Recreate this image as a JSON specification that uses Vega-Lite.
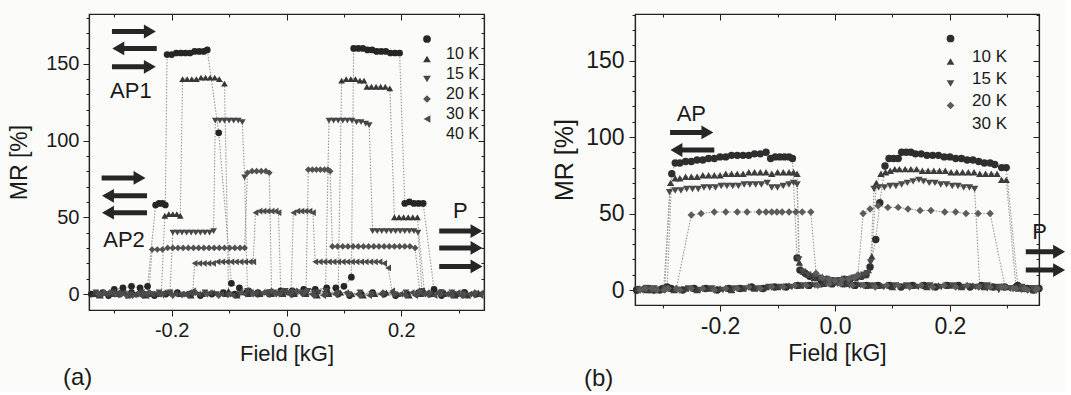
{
"$schema": "https://vega.github.io/schema/vega-lite/v6.json",
"background": "#fbfbf9",
"padding": {"left": 8, "top": 3, "right": 0, "bottom": 0},
"bounds": "flush",
"spacing": 151,
"resolve": {"scale": {"color": "independent", "shape": "independent"}, "legend": {"color": "independent", "shape": "independent"}},
"config": {
  "font": "Liberation Sans",
  "view": {"stroke": "#222", "strokeWidth": 1.2},
  "axis": {"grid": false, "domainColor": "#222", "domainWidth": 1.2, "tickColor": "#222", "labelColor": "#1a1a1a", "titleColor": "#1a1a1a", "titleFontWeight": "normal", "labelFont": "Liberation Sans", "titleFont": "Liberation Sans", "labelOverlap": false, "labelFlush": false},
  "legend": {"title": null, "orient": "none", "labelFont": "Liberation Sans", "labelColor": "#1a1a1a", "symbolOpacity": 1, "padding": 0}
},
"datasets": {
"pa": [
{"t":"10 K","b":"d","x":-0.340,"y":0},{"t":"10 K","b":"d","x":-0.320,"y":1},{"t":"10 K","b":"d","x":-0.300,"y":3},{"t":"10 K","b":"d","x":-0.285,"y":4},{"t":"10 K","b":"d","x":-0.270,"y":5},{"t":"10 K","b":"d","x":-0.255,"y":4},{"t":"10 K","b":"d","x":-0.242,"y":5},{"t":"10 K","b":"d","x":-0.228,"y":58},{"t":"10 K","b":"d","x":-0.222,"y":59},{"t":"10 K","b":"d","x":-0.216,"y":59},{"t":"10 K","b":"d","x":-0.211,"y":58},{"t":"10 K","b":"d","x":-0.208,"y":156},{"t":"10 K","b":"d","x":-0.200,"y":156},{"t":"10 K","b":"d","x":-0.192,"y":157},{"t":"10 K","b":"d","x":-0.184,"y":157},{"t":"10 K","b":"d","x":-0.176,"y":157},{"t":"10 K","b":"d","x":-0.168,"y":157},{"t":"10 K","b":"d","x":-0.160,"y":158},{"t":"10 K","b":"d","x":-0.152,"y":158},{"t":"10 K","b":"d","x":-0.144,"y":158},{"t":"10 K","b":"d","x":-0.138,"y":159},{"t":"10 K","b":"d","x":-0.118,"y":105},{"t":"10 K","b":"d","x":-0.096,"y":7},{"t":"10 K","b":"d","x":-0.082,"y":4},{"t":"10 K","b":"d","x":-0.066,"y":2},{"t":"10 K","b":"d","x":-0.050,"y":1},{"t":"10 K","b":"d","x":-0.030,"y":0},{"t":"10 K","b":"d","x":-0.010,"y":1},{"t":"10 K","b":"d","x":0.010,"y":0},{"t":"10 K","b":"d","x":0.030,"y":1},{"t":"10 K","b":"d","x":0.050,"y":0},{"t":"10 K","b":"d","x":0.070,"y":1},{"t":"10 K","b":"d","x":0.090,"y":0},{"t":"10 K","b":"d","x":0.110,"y":-1},{"t":"10 K","b":"d","x":0.130,"y":0},{"t":"10 K","b":"d","x":0.150,"y":1},{"t":"10 K","b":"d","x":0.170,"y":0},{"t":"10 K","b":"d","x":0.190,"y":-1},{"t":"10 K","b":"d","x":0.210,"y":0},{"t":"10 K","b":"d","x":0.230,"y":1},{"t":"10 K","b":"d","x":0.250,"y":0},{"t":"10 K","b":"d","x":0.270,"y":-1},{"t":"10 K","b":"d","x":0.290,"y":0},{"t":"10 K","b":"d","x":0.310,"y":1},{"t":"10 K","b":"d","x":0.330,"y":0},
{"t":"10 K","b":"u","x":-0.330,"y":0},{"t":"10 K","b":"u","x":-0.310,"y":-1},{"t":"10 K","b":"u","x":-0.290,"y":0},{"t":"10 K","b":"u","x":-0.270,"y":1},{"t":"10 K","b":"u","x":-0.250,"y":0},{"t":"10 K","b":"u","x":-0.230,"y":-1},{"t":"10 K","b":"u","x":-0.210,"y":0},{"t":"10 K","b":"u","x":-0.190,"y":1},{"t":"10 K","b":"u","x":-0.170,"y":0},{"t":"10 K","b":"u","x":-0.150,"y":-1},{"t":"10 K","b":"u","x":-0.130,"y":0},{"t":"10 K","b":"u","x":-0.110,"y":1},{"t":"10 K","b":"u","x":-0.090,"y":0},{"t":"10 K","b":"u","x":-0.070,"y":1},{"t":"10 K","b":"u","x":-0.050,"y":0},{"t":"10 K","b":"u","x":-0.030,"y":1},{"t":"10 K","b":"u","x":-0.010,"y":2},{"t":"10 K","b":"u","x":0.010,"y":2},{"t":"10 K","b":"u","x":0.030,"y":3},{"t":"10 K","b":"u","x":0.050,"y":3},{"t":"10 K","b":"u","x":0.070,"y":4},{"t":"10 K","b":"u","x":0.086,"y":4},{"t":"10 K","b":"u","x":0.100,"y":5},{"t":"10 K","b":"u","x":0.113,"y":11},{"t":"10 K","b":"u","x":0.117,"y":160},{"t":"10 K","b":"u","x":0.125,"y":160},{"t":"10 K","b":"u","x":0.133,"y":160},{"t":"10 K","b":"u","x":0.141,"y":159},{"t":"10 K","b":"u","x":0.149,"y":159},{"t":"10 K","b":"u","x":0.157,"y":158},{"t":"10 K","b":"u","x":0.165,"y":158},{"t":"10 K","b":"u","x":0.173,"y":158},{"t":"10 K","b":"u","x":0.181,"y":157},{"t":"10 K","b":"u","x":0.189,"y":157},{"t":"10 K","b":"u","x":0.197,"y":157},{"t":"10 K","b":"u","x":0.206,"y":59},{"t":"10 K","b":"u","x":0.214,"y":60},{"t":"10 K","b":"u","x":0.222,"y":59},{"t":"10 K","b":"u","x":0.230,"y":59},{"t":"10 K","b":"u","x":0.238,"y":59},{"t":"10 K","b":"u","x":0.257,"y":3},{"t":"10 K","b":"u","x":0.270,"y":1},{"t":"10 K","b":"u","x":0.290,"y":0},{"t":"10 K","b":"u","x":0.310,"y":1},{"t":"10 K","b":"u","x":0.330,"y":0},
{"t":"15 K","b":"d","x":-0.336,"y":0},{"t":"15 K","b":"d","x":-0.316,"y":1},{"t":"15 K","b":"d","x":-0.296,"y":0},{"t":"15 K","b":"d","x":-0.276,"y":-1},{"t":"15 K","b":"d","x":-0.256,"y":1},{"t":"15 K","b":"d","x":-0.236,"y":0},{"t":"15 K","b":"d","x":-0.218,"y":1},{"t":"15 K","b":"d","x":-0.212,"y":51},{"t":"15 K","b":"d","x":-0.205,"y":52},{"t":"15 K","b":"d","x":-0.198,"y":52},{"t":"15 K","b":"d","x":-0.191,"y":52},{"t":"15 K","b":"d","x":-0.185,"y":51},{"t":"15 K","b":"d","x":-0.181,"y":140},{"t":"15 K","b":"d","x":-0.173,"y":140},{"t":"15 K","b":"d","x":-0.165,"y":140},{"t":"15 K","b":"d","x":-0.157,"y":140},{"t":"15 K","b":"d","x":-0.149,"y":141},{"t":"15 K","b":"d","x":-0.141,"y":141},{"t":"15 K","b":"d","x":-0.133,"y":141},{"t":"15 K","b":"d","x":-0.125,"y":141},{"t":"15 K","b":"d","x":-0.117,"y":140},{"t":"15 K","b":"d","x":-0.108,"y":137},{"t":"15 K","b":"d","x":-0.101,"y":2},{"t":"15 K","b":"d","x":-0.086,"y":0},{"t":"15 K","b":"d","x":-0.066,"y":1},{"t":"15 K","b":"d","x":-0.046,"y":0},{"t":"15 K","b":"d","x":-0.026,"y":1},{"t":"15 K","b":"d","x":-0.006,"y":0},{"t":"15 K","b":"d","x":0.014,"y":1},{"t":"15 K","b":"d","x":0.034,"y":0},{"t":"15 K","b":"d","x":0.054,"y":-1},{"t":"15 K","b":"d","x":0.074,"y":0},{"t":"15 K","b":"d","x":0.094,"y":1},{"t":"15 K","b":"d","x":0.114,"y":0},{"t":"15 K","b":"d","x":0.134,"y":-1},{"t":"15 K","b":"d","x":0.154,"y":0},{"t":"15 K","b":"d","x":0.174,"y":1},{"t":"15 K","b":"d","x":0.194,"y":0},{"t":"15 K","b":"d","x":0.214,"y":-1},{"t":"15 K","b":"d","x":0.234,"y":0},{"t":"15 K","b":"d","x":0.254,"y":1},{"t":"15 K","b":"d","x":0.274,"y":0},{"t":"15 K","b":"d","x":0.294,"y":-1},{"t":"15 K","b":"d","x":0.314,"y":0},{"t":"15 K","b":"d","x":0.334,"y":1},
{"t":"15 K","b":"u","x":-0.326,"y":-1},{"t":"15 K","b":"u","x":-0.306,"y":0},{"t":"15 K","b":"u","x":-0.286,"y":1},{"t":"15 K","b":"u","x":-0.266,"y":0},{"t":"15 K","b":"u","x":-0.246,"y":-1},{"t":"15 K","b":"u","x":-0.226,"y":0},{"t":"15 K","b":"u","x":-0.206,"y":1},{"t":"15 K","b":"u","x":-0.186,"y":0},{"t":"15 K","b":"u","x":-0.166,"y":-1},{"t":"15 K","b":"u","x":-0.146,"y":0},{"t":"15 K","b":"u","x":-0.126,"y":1},{"t":"15 K","b":"u","x":-0.106,"y":0},{"t":"15 K","b":"u","x":-0.086,"y":-1},{"t":"15 K","b":"u","x":-0.066,"y":0},{"t":"15 K","b":"u","x":-0.046,"y":1},{"t":"15 K","b":"u","x":-0.026,"y":0},{"t":"15 K","b":"u","x":-0.006,"y":1},{"t":"15 K","b":"u","x":0.014,"y":0},{"t":"15 K","b":"u","x":0.034,"y":1},{"t":"15 K","b":"u","x":0.054,"y":2},{"t":"15 K","b":"u","x":0.074,"y":1},{"t":"15 K","b":"u","x":0.090,"y":2},{"t":"15 K","b":"u","x":0.096,"y":139},{"t":"15 K","b":"u","x":0.104,"y":140},{"t":"15 K","b":"u","x":0.112,"y":140},{"t":"15 K","b":"u","x":0.120,"y":140},{"t":"15 K","b":"u","x":0.128,"y":139},{"t":"15 K","b":"u","x":0.135,"y":139},{"t":"15 K","b":"u","x":0.140,"y":135},{"t":"15 K","b":"u","x":0.148,"y":135},{"t":"15 K","b":"u","x":0.156,"y":135},{"t":"15 K","b":"u","x":0.164,"y":135},{"t":"15 K","b":"u","x":0.172,"y":135},{"t":"15 K","b":"u","x":0.180,"y":134},{"t":"15 K","b":"u","x":0.188,"y":50},{"t":"15 K","b":"u","x":0.196,"y":50},{"t":"15 K","b":"u","x":0.204,"y":50},{"t":"15 K","b":"u","x":0.212,"y":50},{"t":"15 K","b":"u","x":0.220,"y":50},{"t":"15 K","b":"u","x":0.228,"y":50},{"t":"15 K","b":"u","x":0.240,"y":2},{"t":"15 K","b":"u","x":0.256,"y":0},{"t":"15 K","b":"u","x":0.276,"y":1},{"t":"15 K","b":"u","x":0.296,"y":0},{"t":"15 K","b":"u","x":0.316,"y":-1},{"t":"15 K","b":"u","x":0.336,"y":0},
{"t":"20 K","b":"d","x":-0.332,"y":1},{"t":"20 K","b":"d","x":-0.312,"y":0},{"t":"20 K","b":"d","x":-0.292,"y":-1},{"t":"20 K","b":"d","x":-0.272,"y":0},{"t":"20 K","b":"d","x":-0.252,"y":1},{"t":"20 K","b":"d","x":-0.232,"y":0},{"t":"20 K","b":"d","x":-0.214,"y":-1},{"t":"20 K","b":"d","x":-0.203,"y":1},{"t":"20 K","b":"d","x":-0.198,"y":40},{"t":"20 K","b":"d","x":-0.190,"y":40},{"t":"20 K","b":"d","x":-0.182,"y":40},{"t":"20 K","b":"d","x":-0.174,"y":40},{"t":"20 K","b":"d","x":-0.166,"y":40},{"t":"20 K","b":"d","x":-0.158,"y":40},{"t":"20 K","b":"d","x":-0.150,"y":40},{"t":"20 K","b":"d","x":-0.142,"y":40},{"t":"20 K","b":"d","x":-0.134,"y":40},{"t":"20 K","b":"d","x":-0.127,"y":41},{"t":"20 K","b":"d","x":-0.124,"y":113},{"t":"20 K","b":"d","x":-0.116,"y":113},{"t":"20 K","b":"d","x":-0.108,"y":113},{"t":"20 K","b":"d","x":-0.100,"y":113},{"t":"20 K","b":"d","x":-0.092,"y":113},{"t":"20 K","b":"d","x":-0.084,"y":113},{"t":"20 K","b":"d","x":-0.077,"y":112},{"t":"20 K","b":"d","x":-0.073,"y":76},{"t":"20 K","b":"d","x":-0.068,"y":2},{"t":"20 K","b":"d","x":-0.052,"y":0},{"t":"20 K","b":"d","x":-0.032,"y":1},{"t":"20 K","b":"d","x":-0.012,"y":0},{"t":"20 K","b":"d","x":0.008,"y":-1},{"t":"20 K","b":"d","x":0.028,"y":0},{"t":"20 K","b":"d","x":0.048,"y":1},{"t":"20 K","b":"d","x":0.068,"y":0},{"t":"20 K","b":"d","x":0.088,"y":-1},{"t":"20 K","b":"d","x":0.108,"y":0},{"t":"20 K","b":"d","x":0.128,"y":1},{"t":"20 K","b":"d","x":0.148,"y":0},{"t":"20 K","b":"d","x":0.168,"y":-1},{"t":"20 K","b":"d","x":0.188,"y":0},{"t":"20 K","b":"d","x":0.208,"y":1},{"t":"20 K","b":"d","x":0.228,"y":0},{"t":"20 K","b":"d","x":0.248,"y":-1},{"t":"20 K","b":"d","x":0.268,"y":0},{"t":"20 K","b":"d","x":0.288,"y":1},{"t":"20 K","b":"d","x":0.308,"y":0},{"t":"20 K","b":"d","x":0.328,"y":-1},
{"t":"20 K","b":"u","x":-0.322,"y":0},{"t":"20 K","b":"u","x":-0.302,"y":1},{"t":"20 K","b":"u","x":-0.282,"y":0},{"t":"20 K","b":"u","x":-0.262,"y":-1},{"t":"20 K","b":"u","x":-0.242,"y":0},{"t":"20 K","b":"u","x":-0.222,"y":1},{"t":"20 K","b":"u","x":-0.202,"y":0},{"t":"20 K","b":"u","x":-0.182,"y":-1},{"t":"20 K","b":"u","x":-0.162,"y":0},{"t":"20 K","b":"u","x":-0.142,"y":1},{"t":"20 K","b":"u","x":-0.122,"y":0},{"t":"20 K","b":"u","x":-0.102,"y":-1},{"t":"20 K","b":"u","x":-0.082,"y":0},{"t":"20 K","b":"u","x":-0.062,"y":1},{"t":"20 K","b":"u","x":-0.042,"y":0},{"t":"20 K","b":"u","x":-0.022,"y":1},{"t":"20 K","b":"u","x":-0.002,"y":2},{"t":"20 K","b":"u","x":0.018,"y":1},{"t":"20 K","b":"u","x":0.038,"y":2},{"t":"20 K","b":"u","x":0.056,"y":1},{"t":"20 K","b":"u","x":0.068,"y":2},{"t":"20 K","b":"u","x":0.074,"y":113},{"t":"20 K","b":"u","x":0.082,"y":113},{"t":"20 K","b":"u","x":0.090,"y":113},{"t":"20 K","b":"u","x":0.098,"y":113},{"t":"20 K","b":"u","x":0.106,"y":113},{"t":"20 K","b":"u","x":0.114,"y":113},{"t":"20 K","b":"u","x":0.122,"y":112},{"t":"20 K","b":"u","x":0.130,"y":112},{"t":"20 K","b":"u","x":0.138,"y":111},{"t":"20 K","b":"u","x":0.144,"y":110},{"t":"20 K","b":"u","x":0.150,"y":41},{"t":"20 K","b":"u","x":0.158,"y":41},{"t":"20 K","b":"u","x":0.166,"y":41},{"t":"20 K","b":"u","x":0.174,"y":41},{"t":"20 K","b":"u","x":0.182,"y":41},{"t":"20 K","b":"u","x":0.190,"y":41},{"t":"20 K","b":"u","x":0.198,"y":41},{"t":"20 K","b":"u","x":0.206,"y":41},{"t":"20 K","b":"u","x":0.214,"y":41},{"t":"20 K","b":"u","x":0.222,"y":41},{"t":"20 K","b":"u","x":0.229,"y":40},{"t":"20 K","b":"u","x":0.236,"y":2},{"t":"20 K","b":"u","x":0.250,"y":0},{"t":"20 K","b":"u","x":0.270,"y":1},{"t":"20 K","b":"u","x":0.290,"y":0},{"t":"20 K","b":"u","x":0.310,"y":-1},{"t":"20 K","b":"u","x":0.330,"y":0},
{"t":"30 K","b":"d","x":-0.328,"y":0},{"t":"30 K","b":"d","x":-0.308,"y":1},{"t":"30 K","b":"d","x":-0.288,"y":0},{"t":"30 K","b":"d","x":-0.268,"y":-1},{"t":"30 K","b":"d","x":-0.250,"y":0},{"t":"30 K","b":"d","x":-0.240,"y":1},{"t":"30 K","b":"d","x":-0.234,"y":29},{"t":"30 K","b":"d","x":-0.225,"y":29},{"t":"30 K","b":"d","x":-0.216,"y":29},{"t":"30 K","b":"d","x":-0.207,"y":30},{"t":"30 K","b":"d","x":-0.198,"y":30},{"t":"30 K","b":"d","x":-0.189,"y":30},{"t":"30 K","b":"d","x":-0.180,"y":30},{"t":"30 K","b":"d","x":-0.171,"y":30},{"t":"30 K","b":"d","x":-0.162,"y":30},{"t":"30 K","b":"d","x":-0.153,"y":30},{"t":"30 K","b":"d","x":-0.144,"y":30},{"t":"30 K","b":"d","x":-0.135,"y":30},{"t":"30 K","b":"d","x":-0.126,"y":30},{"t":"30 K","b":"d","x":-0.117,"y":30},{"t":"30 K","b":"d","x":-0.108,"y":30},{"t":"30 K","b":"d","x":-0.099,"y":30},{"t":"30 K","b":"d","x":-0.090,"y":30},{"t":"30 K","b":"d","x":-0.081,"y":30},{"t":"30 K","b":"d","x":-0.073,"y":30},{"t":"30 K","b":"d","x":-0.068,"y":79},{"t":"30 K","b":"d","x":-0.060,"y":80},{"t":"30 K","b":"d","x":-0.052,"y":80},{"t":"30 K","b":"d","x":-0.044,"y":80},{"t":"30 K","b":"d","x":-0.036,"y":80},{"t":"30 K","b":"d","x":-0.030,"y":79},{"t":"30 K","b":"d","x":-0.026,"y":2},{"t":"30 K","b":"d","x":-0.012,"y":0},{"t":"30 K","b":"d","x":0.008,"y":1},{"t":"30 K","b":"d","x":0.028,"y":0},{"t":"30 K","b":"d","x":0.048,"y":-1},{"t":"30 K","b":"d","x":0.068,"y":0},{"t":"30 K","b":"d","x":0.088,"y":1},{"t":"30 K","b":"d","x":0.108,"y":0},{"t":"30 K","b":"d","x":0.128,"y":-1},{"t":"30 K","b":"d","x":0.148,"y":0},{"t":"30 K","b":"d","x":0.168,"y":1},{"t":"30 K","b":"d","x":0.188,"y":0},{"t":"30 K","b":"d","x":0.208,"y":-1},{"t":"30 K","b":"d","x":0.228,"y":0},{"t":"30 K","b":"d","x":0.248,"y":1},{"t":"30 K","b":"d","x":0.268,"y":0},{"t":"30 K","b":"d","x":0.288,"y":-1},{"t":"30 K","b":"d","x":0.308,"y":0},{"t":"30 K","b":"d","x":0.328,"y":1},
{"t":"30 K","b":"u","x":-0.318,"y":1},{"t":"30 K","b":"u","x":-0.298,"y":0},{"t":"30 K","b":"u","x":-0.278,"y":-1},{"t":"30 K","b":"u","x":-0.258,"y":0},{"t":"30 K","b":"u","x":-0.238,"y":1},{"t":"30 K","b":"u","x":-0.218,"y":0},{"t":"30 K","b":"u","x":-0.198,"y":-1},{"t":"30 K","b":"u","x":-0.178,"y":0},{"t":"30 K","b":"u","x":-0.158,"y":1},{"t":"30 K","b":"u","x":-0.138,"y":0},{"t":"30 K","b":"u","x":-0.118,"y":-1},{"t":"30 K","b":"u","x":-0.098,"y":0},{"t":"30 K","b":"u","x":-0.078,"y":1},{"t":"30 K","b":"u","x":-0.058,"y":0},{"t":"30 K","b":"u","x":-0.038,"y":1},{"t":"30 K","b":"u","x":-0.018,"y":0},{"t":"30 K","b":"u","x":0.002,"y":1},{"t":"30 K","b":"u","x":0.018,"y":2},{"t":"30 K","b":"u","x":0.030,"y":1},{"t":"30 K","b":"u","x":0.034,"y":2},{"t":"30 K","b":"u","x":0.038,"y":81},{"t":"30 K","b":"u","x":0.045,"y":81},{"t":"30 K","b":"u","x":0.052,"y":81},{"t":"30 K","b":"u","x":0.059,"y":81},{"t":"30 K","b":"u","x":0.066,"y":81},{"t":"30 K","b":"u","x":0.072,"y":81},{"t":"30 K","b":"u","x":0.076,"y":80},{"t":"30 K","b":"u","x":0.080,"y":31},{"t":"30 K","b":"u","x":0.089,"y":31},{"t":"30 K","b":"u","x":0.098,"y":31},{"t":"30 K","b":"u","x":0.107,"y":31},{"t":"30 K","b":"u","x":0.116,"y":31},{"t":"30 K","b":"u","x":0.125,"y":31},{"t":"30 K","b":"u","x":0.134,"y":31},{"t":"30 K","b":"u","x":0.143,"y":31},{"t":"30 K","b":"u","x":0.152,"y":31},{"t":"30 K","b":"u","x":0.161,"y":31},{"t":"30 K","b":"u","x":0.170,"y":31},{"t":"30 K","b":"u","x":0.179,"y":31},{"t":"30 K","b":"u","x":0.188,"y":31},{"t":"30 K","b":"u","x":0.197,"y":31},{"t":"30 K","b":"u","x":0.206,"y":31},{"t":"30 K","b":"u","x":0.215,"y":31},{"t":"30 K","b":"u","x":0.224,"y":30},{"t":"30 K","b":"u","x":0.232,"y":2},{"t":"30 K","b":"u","x":0.246,"y":0},{"t":"30 K","b":"u","x":0.266,"y":1},{"t":"30 K","b":"u","x":0.286,"y":0},{"t":"30 K","b":"u","x":0.306,"y":-1},{"t":"30 K","b":"u","x":0.326,"y":0},
{"t":"40 K","b":"d","x":-0.324,"y":-1},{"t":"40 K","b":"d","x":-0.304,"y":0},{"t":"40 K","b":"d","x":-0.284,"y":1},{"t":"40 K","b":"d","x":-0.264,"y":0},{"t":"40 K","b":"d","x":-0.244,"y":-1},{"t":"40 K","b":"d","x":-0.224,"y":0},{"t":"40 K","b":"d","x":-0.204,"y":1},{"t":"40 K","b":"d","x":-0.184,"y":0},{"t":"40 K","b":"d","x":-0.170,"y":1},{"t":"40 K","b":"d","x":-0.163,"y":2},{"t":"40 K","b":"d","x":-0.160,"y":20},{"t":"40 K","b":"d","x":-0.152,"y":20},{"t":"40 K","b":"d","x":-0.144,"y":20},{"t":"40 K","b":"d","x":-0.136,"y":20},{"t":"40 K","b":"d","x":-0.128,"y":20},{"t":"40 K","b":"d","x":-0.120,"y":21},{"t":"40 K","b":"d","x":-0.112,"y":21},{"t":"40 K","b":"d","x":-0.104,"y":21},{"t":"40 K","b":"d","x":-0.096,"y":21},{"t":"40 K","b":"d","x":-0.088,"y":21},{"t":"40 K","b":"d","x":-0.080,"y":21},{"t":"40 K","b":"d","x":-0.072,"y":21},{"t":"40 K","b":"d","x":-0.064,"y":21},{"t":"40 K","b":"d","x":-0.058,"y":21},{"t":"40 K","b":"d","x":-0.054,"y":53},{"t":"40 K","b":"d","x":-0.047,"y":54},{"t":"40 K","b":"d","x":-0.040,"y":54},{"t":"40 K","b":"d","x":-0.033,"y":54},{"t":"40 K","b":"d","x":-0.026,"y":54},{"t":"40 K","b":"d","x":-0.019,"y":54},{"t":"40 K","b":"d","x":-0.014,"y":53},{"t":"40 K","b":"d","x":-0.010,"y":2},{"t":"40 K","b":"d","x":0.004,"y":0},{"t":"40 K","b":"d","x":0.024,"y":1},{"t":"40 K","b":"d","x":0.044,"y":0},{"t":"40 K","b":"d","x":0.064,"y":-1},{"t":"40 K","b":"d","x":0.084,"y":0},{"t":"40 K","b":"d","x":0.104,"y":1},{"t":"40 K","b":"d","x":0.124,"y":0},{"t":"40 K","b":"d","x":0.144,"y":-1},{"t":"40 K","b":"d","x":0.164,"y":0},{"t":"40 K","b":"d","x":0.184,"y":1},{"t":"40 K","b":"d","x":0.204,"y":0},{"t":"40 K","b":"d","x":0.224,"y":-1},{"t":"40 K","b":"d","x":0.244,"y":0},{"t":"40 K","b":"d","x":0.264,"y":1},{"t":"40 K","b":"d","x":0.284,"y":0},{"t":"40 K","b":"d","x":0.304,"y":-1},{"t":"40 K","b":"d","x":0.324,"y":0},{"t":"40 K","b":"d","x":0.340,"y":1},
{"t":"40 K","b":"u","x":-0.314,"y":0},{"t":"40 K","b":"u","x":-0.294,"y":1},{"t":"40 K","b":"u","x":-0.274,"y":0},{"t":"40 K","b":"u","x":-0.254,"y":-1},{"t":"40 K","b":"u","x":-0.234,"y":0},{"t":"40 K","b":"u","x":-0.214,"y":1},{"t":"40 K","b":"u","x":-0.194,"y":0},{"t":"40 K","b":"u","x":-0.174,"y":-1},{"t":"40 K","b":"u","x":-0.154,"y":0},{"t":"40 K","b":"u","x":-0.134,"y":1},{"t":"40 K","b":"u","x":-0.114,"y":0},{"t":"40 K","b":"u","x":-0.094,"y":-1},{"t":"40 K","b":"u","x":-0.074,"y":0},{"t":"40 K","b":"u","x":-0.054,"y":1},{"t":"40 K","b":"u","x":-0.034,"y":0},{"t":"40 K","b":"u","x":-0.014,"y":1},{"t":"40 K","b":"u","x":0.000,"y":1},{"t":"40 K","b":"u","x":0.008,"y":2},{"t":"40 K","b":"u","x":0.012,"y":53},{"t":"40 K","b":"u","x":0.019,"y":54},{"t":"40 K","b":"u","x":0.026,"y":54},{"t":"40 K","b":"u","x":0.033,"y":54},{"t":"40 K","b":"u","x":0.040,"y":54},{"t":"40 K","b":"u","x":0.046,"y":53},{"t":"40 K","b":"u","x":0.050,"y":21},{"t":"40 K","b":"u","x":0.058,"y":21},{"t":"40 K","b":"u","x":0.066,"y":21},{"t":"40 K","b":"u","x":0.074,"y":21},{"t":"40 K","b":"u","x":0.082,"y":21},{"t":"40 K","b":"u","x":0.090,"y":21},{"t":"40 K","b":"u","x":0.098,"y":21},{"t":"40 K","b":"u","x":0.106,"y":21},{"t":"40 K","b":"u","x":0.114,"y":21},{"t":"40 K","b":"u","x":0.122,"y":21},{"t":"40 K","b":"u","x":0.130,"y":21},{"t":"40 K","b":"u","x":0.138,"y":21},{"t":"40 K","b":"u","x":0.146,"y":21},{"t":"40 K","b":"u","x":0.154,"y":21},{"t":"40 K","b":"u","x":0.162,"y":21},{"t":"40 K","b":"u","x":0.170,"y":20},{"t":"40 K","b":"u","x":0.177,"y":17},{"t":"40 K","b":"u","x":0.184,"y":2},{"t":"40 K","b":"u","x":0.198,"y":0},{"t":"40 K","b":"u","x":0.218,"y":1},{"t":"40 K","b":"u","x":0.238,"y":0},{"t":"40 K","b":"u","x":0.258,"y":-1},{"t":"40 K","b":"u","x":0.278,"y":0},{"t":"40 K","b":"u","x":0.298,"y":1},{"t":"40 K","b":"u","x":0.318,"y":0},{"t":"40 K","b":"u","x":0.338,"y":-1}
],
"pb": [
{"t":"10 K","b":"u","x":-0.345,"y":0},{"t":"10 K","b":"u","x":-0.330,"y":1},{"t":"10 K","b":"u","x":-0.315,"y":0},{"t":"10 K","b":"u","x":-0.300,"y":1},{"t":"10 K","b":"u","x":-0.292,"y":2},{"t":"10 K","b":"u","x":-0.284,"y":76},{"t":"10 K","b":"u","x":-0.278,"y":83},{"t":"10 K","b":"u","x":-0.270,"y":83},{"t":"10 K","b":"u","x":-0.260,"y":84},{"t":"10 K","b":"u","x":-0.250,"y":84},{"t":"10 K","b":"u","x":-0.240,"y":85},{"t":"10 K","b":"u","x":-0.230,"y":85},{"t":"10 K","b":"u","x":-0.220,"y":86},{"t":"10 K","b":"u","x":-0.210,"y":86},{"t":"10 K","b":"u","x":-0.200,"y":87},{"t":"10 K","b":"u","x":-0.190,"y":87},{"t":"10 K","b":"u","x":-0.180,"y":88},{"t":"10 K","b":"u","x":-0.170,"y":88},{"t":"10 K","b":"u","x":-0.160,"y":88},{"t":"10 K","b":"u","x":-0.150,"y":88},{"t":"10 K","b":"u","x":-0.140,"y":89},{"t":"10 K","b":"u","x":-0.130,"y":89},{"t":"10 K","b":"u","x":-0.120,"y":90},{"t":"10 K","b":"u","x":-0.112,"y":86},{"t":"10 K","b":"u","x":-0.104,"y":87},{"t":"10 K","b":"u","x":-0.096,"y":87},{"t":"10 K","b":"u","x":-0.088,"y":87},{"t":"10 K","b":"u","x":-0.080,"y":87},{"t":"10 K","b":"u","x":-0.074,"y":86},{"t":"10 K","b":"u","x":-0.066,"y":21},{"t":"10 K","b":"u","x":-0.061,"y":13},{"t":"10 K","b":"u","x":-0.052,"y":11},{"t":"10 K","b":"u","x":-0.044,"y":9},{"t":"10 K","b":"u","x":-0.034,"y":8},{"t":"10 K","b":"u","x":-0.024,"y":7},{"t":"10 K","b":"u","x":-0.014,"y":7},{"t":"10 K","b":"u","x":-0.004,"y":6},{"t":"10 K","b":"u","x":0.006,"y":6},{"t":"10 K","b":"u","x":0.016,"y":7},{"t":"10 K","b":"u","x":0.026,"y":7},{"t":"10 K","b":"u","x":0.036,"y":8},{"t":"10 K","b":"u","x":0.046,"y":9},{"t":"10 K","b":"u","x":0.054,"y":10},{"t":"10 K","b":"u","x":0.061,"y":15},{"t":"10 K","b":"u","x":0.071,"y":33},{"t":"10 K","b":"u","x":0.078,"y":57},{"t":"10 K","b":"u","x":0.087,"y":81},{"t":"10 K","b":"u","x":0.094,"y":86},{"t":"10 K","b":"u","x":0.102,"y":86},{"t":"10 K","b":"u","x":0.110,"y":86},{"t":"10 K","b":"u","x":0.116,"y":90},{"t":"10 K","b":"u","x":0.124,"y":90},{"t":"10 K","b":"u","x":0.132,"y":90},{"t":"10 K","b":"u","x":0.140,"y":89},{"t":"10 K","b":"u","x":0.150,"y":89},{"t":"10 K","b":"u","x":0.160,"y":88},{"t":"10 K","b":"u","x":0.170,"y":88},{"t":"10 K","b":"u","x":0.180,"y":88},{"t":"10 K","b":"u","x":0.190,"y":87},{"t":"10 K","b":"u","x":0.200,"y":87},{"t":"10 K","b":"u","x":0.210,"y":86},{"t":"10 K","b":"u","x":0.220,"y":86},{"t":"10 K","b":"u","x":0.230,"y":85},{"t":"10 K","b":"u","x":0.240,"y":85},{"t":"10 K","b":"u","x":0.250,"y":84},{"t":"10 K","b":"u","x":0.260,"y":83},{"t":"10 K","b":"u","x":0.270,"y":83},{"t":"10 K","b":"u","x":0.278,"y":82},{"t":"10 K","b":"u","x":0.290,"y":80},{"t":"10 K","b":"u","x":0.298,"y":80},{"t":"10 K","b":"u","x":0.318,"y":3},{"t":"10 K","b":"u","x":0.330,"y":1},{"t":"10 K","b":"u","x":0.345,"y":0},
{"t":"10 K","b":"d","x":-0.345,"y":0},{"t":"10 K","b":"d","x":-0.325,"y":1},{"t":"10 K","b":"d","x":-0.305,"y":0},{"t":"10 K","b":"d","x":-0.285,"y":1},{"t":"10 K","b":"d","x":-0.265,"y":0},{"t":"10 K","b":"d","x":-0.245,"y":1},{"t":"10 K","b":"d","x":-0.225,"y":1},{"t":"10 K","b":"d","x":-0.205,"y":0},{"t":"10 K","b":"d","x":-0.185,"y":1},{"t":"10 K","b":"d","x":-0.165,"y":1},{"t":"10 K","b":"d","x":-0.145,"y":2},{"t":"10 K","b":"d","x":-0.125,"y":1},{"t":"10 K","b":"d","x":-0.105,"y":2},{"t":"10 K","b":"d","x":-0.085,"y":2},{"t":"10 K","b":"d","x":-0.065,"y":3},{"t":"10 K","b":"d","x":-0.045,"y":3},{"t":"10 K","b":"d","x":-0.025,"y":4},{"t":"10 K","b":"d","x":-0.005,"y":4},{"t":"10 K","b":"d","x":0.015,"y":4},{"t":"10 K","b":"d","x":0.035,"y":3},{"t":"10 K","b":"d","x":0.055,"y":3},{"t":"10 K","b":"d","x":0.075,"y":3},{"t":"10 K","b":"d","x":0.095,"y":3},{"t":"10 K","b":"d","x":0.115,"y":2},{"t":"10 K","b":"d","x":0.135,"y":3},{"t":"10 K","b":"d","x":0.155,"y":3},{"t":"10 K","b":"d","x":0.175,"y":2},{"t":"10 K","b":"d","x":0.195,"y":3},{"t":"10 K","b":"d","x":0.215,"y":3},{"t":"10 K","b":"d","x":0.235,"y":2},{"t":"10 K","b":"d","x":0.255,"y":3},{"t":"10 K","b":"d","x":0.275,"y":2},{"t":"10 K","b":"d","x":0.295,"y":2},{"t":"10 K","b":"d","x":0.315,"y":2},{"t":"10 K","b":"d","x":0.335,"y":1},{"t":"10 K","b":"d","x":0.355,"y":1},
{"t":"15 K","b":"u","x":-0.343,"y":1},{"t":"15 K","b":"u","x":-0.328,"y":0},{"t":"15 K","b":"u","x":-0.313,"y":1},{"t":"15 K","b":"u","x":-0.298,"y":1},{"t":"15 K","b":"u","x":-0.286,"y":70},{"t":"15 K","b":"u","x":-0.278,"y":73},{"t":"15 K","b":"u","x":-0.270,"y":73},{"t":"15 K","b":"u","x":-0.260,"y":74},{"t":"15 K","b":"u","x":-0.250,"y":74},{"t":"15 K","b":"u","x":-0.240,"y":74},{"t":"15 K","b":"u","x":-0.230,"y":75},{"t":"15 K","b":"u","x":-0.220,"y":75},{"t":"15 K","b":"u","x":-0.210,"y":75},{"t":"15 K","b":"u","x":-0.200,"y":75},{"t":"15 K","b":"u","x":-0.190,"y":76},{"t":"15 K","b":"u","x":-0.180,"y":76},{"t":"15 K","b":"u","x":-0.170,"y":76},{"t":"15 K","b":"u","x":-0.160,"y":76},{"t":"15 K","b":"u","x":-0.150,"y":77},{"t":"15 K","b":"u","x":-0.140,"y":77},{"t":"15 K","b":"u","x":-0.130,"y":77},{"t":"15 K","b":"u","x":-0.120,"y":77},{"t":"15 K","b":"u","x":-0.110,"y":76},{"t":"15 K","b":"u","x":-0.100,"y":77},{"t":"15 K","b":"u","x":-0.090,"y":77},{"t":"15 K","b":"u","x":-0.080,"y":77},{"t":"15 K","b":"u","x":-0.072,"y":77},{"t":"15 K","b":"u","x":-0.066,"y":76},{"t":"15 K","b":"u","x":-0.062,"y":18},{"t":"15 K","b":"u","x":-0.055,"y":12},{"t":"15 K","b":"u","x":-0.046,"y":10},{"t":"15 K","b":"u","x":-0.036,"y":8},{"t":"15 K","b":"u","x":-0.026,"y":8},{"t":"15 K","b":"u","x":-0.016,"y":7},{"t":"15 K","b":"u","x":-0.006,"y":6},{"t":"15 K","b":"u","x":0.004,"y":6},{"t":"15 K","b":"u","x":0.014,"y":7},{"t":"15 K","b":"u","x":0.024,"y":7},{"t":"15 K","b":"u","x":0.034,"y":8},{"t":"15 K","b":"u","x":0.044,"y":9},{"t":"15 K","b":"u","x":0.052,"y":10},{"t":"15 K","b":"u","x":0.058,"y":13},{"t":"15 K","b":"u","x":0.064,"y":22},{"t":"15 K","b":"u","x":0.072,"y":70},{"t":"15 K","b":"u","x":0.080,"y":76},{"t":"15 K","b":"u","x":0.088,"y":77},{"t":"15 K","b":"u","x":0.096,"y":78},{"t":"15 K","b":"u","x":0.104,"y":79},{"t":"15 K","b":"u","x":0.112,"y":79},{"t":"15 K","b":"u","x":0.122,"y":79},{"t":"15 K","b":"u","x":0.132,"y":79},{"t":"15 K","b":"u","x":0.142,"y":79},{"t":"15 K","b":"u","x":0.152,"y":78},{"t":"15 K","b":"u","x":0.162,"y":78},{"t":"15 K","b":"u","x":0.172,"y":78},{"t":"15 K","b":"u","x":0.182,"y":78},{"t":"15 K","b":"u","x":0.192,"y":78},{"t":"15 K","b":"u","x":0.202,"y":77},{"t":"15 K","b":"u","x":0.212,"y":77},{"t":"15 K","b":"u","x":0.222,"y":77},{"t":"15 K","b":"u","x":0.232,"y":77},{"t":"15 K","b":"u","x":0.242,"y":77},{"t":"15 K","b":"u","x":0.252,"y":76},{"t":"15 K","b":"u","x":0.262,"y":76},{"t":"15 K","b":"u","x":0.272,"y":76},{"t":"15 K","b":"u","x":0.282,"y":76},{"t":"15 K","b":"u","x":0.290,"y":72},{"t":"15 K","b":"u","x":0.298,"y":72},{"t":"15 K","b":"u","x":0.315,"y":2},{"t":"15 K","b":"u","x":0.330,"y":1},{"t":"15 K","b":"u","x":0.345,"y":0},
{"t":"15 K","b":"d","x":-0.340,"y":1},{"t":"15 K","b":"d","x":-0.320,"y":0},{"t":"15 K","b":"d","x":-0.300,"y":1},{"t":"15 K","b":"d","x":-0.280,"y":0},{"t":"15 K","b":"d","x":-0.260,"y":1},{"t":"15 K","b":"d","x":-0.240,"y":0},{"t":"15 K","b":"d","x":-0.220,"y":1},{"t":"15 K","b":"d","x":-0.200,"y":1},{"t":"15 K","b":"d","x":-0.180,"y":0},{"t":"15 K","b":"d","x":-0.160,"y":1},{"t":"15 K","b":"d","x":-0.140,"y":1},{"t":"15 K","b":"d","x":-0.120,"y":2},{"t":"15 K","b":"d","x":-0.100,"y":2},{"t":"15 K","b":"d","x":-0.080,"y":3},{"t":"15 K","b":"d","x":-0.060,"y":3},{"t":"15 K","b":"d","x":-0.040,"y":4},{"t":"15 K","b":"d","x":-0.020,"y":4},{"t":"15 K","b":"d","x":0.000,"y":5},{"t":"15 K","b":"d","x":0.020,"y":4},{"t":"15 K","b":"d","x":0.040,"y":4},{"t":"15 K","b":"d","x":0.060,"y":3},{"t":"15 K","b":"d","x":0.080,"y":3},{"t":"15 K","b":"d","x":0.100,"y":2},{"t":"15 K","b":"d","x":0.120,"y":3},{"t":"15 K","b":"d","x":0.140,"y":3},{"t":"15 K","b":"d","x":0.160,"y":2},{"t":"15 K","b":"d","x":0.180,"y":3},{"t":"15 K","b":"d","x":0.200,"y":3},{"t":"15 K","b":"d","x":0.220,"y":2},{"t":"15 K","b":"d","x":0.240,"y":3},{"t":"15 K","b":"d","x":0.260,"y":2},{"t":"15 K","b":"d","x":0.280,"y":2},{"t":"15 K","b":"d","x":0.300,"y":2},{"t":"15 K","b":"d","x":0.320,"y":1},{"t":"15 K","b":"d","x":0.340,"y":1},
{"t":"20 K","b":"u","x":-0.341,"y":0},{"t":"20 K","b":"u","x":-0.326,"y":1},{"t":"20 K","b":"u","x":-0.311,"y":0},{"t":"20 K","b":"u","x":-0.296,"y":1},{"t":"20 K","b":"u","x":-0.288,"y":64},{"t":"20 K","b":"u","x":-0.278,"y":65},{"t":"20 K","b":"u","x":-0.268,"y":65},{"t":"20 K","b":"u","x":-0.258,"y":66},{"t":"20 K","b":"u","x":-0.248,"y":66},{"t":"20 K","b":"u","x":-0.238,"y":66},{"t":"20 K","b":"u","x":-0.228,"y":67},{"t":"20 K","b":"u","x":-0.218,"y":67},{"t":"20 K","b":"u","x":-0.208,"y":67},{"t":"20 K","b":"u","x":-0.198,"y":68},{"t":"20 K","b":"u","x":-0.188,"y":68},{"t":"20 K","b":"u","x":-0.178,"y":68},{"t":"20 K","b":"u","x":-0.168,"y":68},{"t":"20 K","b":"u","x":-0.158,"y":69},{"t":"20 K","b":"u","x":-0.148,"y":69},{"t":"20 K","b":"u","x":-0.138,"y":69},{"t":"20 K","b":"u","x":-0.128,"y":69},{"t":"20 K","b":"u","x":-0.118,"y":70},{"t":"20 K","b":"u","x":-0.110,"y":67},{"t":"20 K","b":"u","x":-0.100,"y":67},{"t":"20 K","b":"u","x":-0.090,"y":68},{"t":"20 K","b":"u","x":-0.080,"y":69},{"t":"20 K","b":"u","x":-0.072,"y":70},{"t":"20 K","b":"u","x":-0.066,"y":69},{"t":"20 K","b":"u","x":-0.063,"y":20},{"t":"20 K","b":"u","x":-0.056,"y":12},{"t":"20 K","b":"u","x":-0.047,"y":10},{"t":"20 K","b":"u","x":-0.037,"y":9},{"t":"20 K","b":"u","x":-0.027,"y":8},{"t":"20 K","b":"u","x":-0.017,"y":7},{"t":"20 K","b":"u","x":-0.007,"y":6},{"t":"20 K","b":"u","x":0.003,"y":6},{"t":"20 K","b":"u","x":0.013,"y":6},{"t":"20 K","b":"u","x":0.023,"y":7},{"t":"20 K","b":"u","x":0.033,"y":8},{"t":"20 K","b":"u","x":0.043,"y":9},{"t":"20 K","b":"u","x":0.050,"y":10},{"t":"20 K","b":"u","x":0.056,"y":11},{"t":"20 K","b":"u","x":0.062,"y":18},{"t":"20 K","b":"u","x":0.068,"y":66},{"t":"20 K","b":"u","x":0.076,"y":67},{"t":"20 K","b":"u","x":0.086,"y":67},{"t":"20 K","b":"u","x":0.096,"y":68},{"t":"20 K","b":"u","x":0.106,"y":68},{"t":"20 K","b":"u","x":0.116,"y":69},{"t":"20 K","b":"u","x":0.126,"y":70},{"t":"20 K","b":"u","x":0.136,"y":71},{"t":"20 K","b":"u","x":0.146,"y":72},{"t":"20 K","b":"u","x":0.154,"y":71},{"t":"20 K","b":"u","x":0.164,"y":70},{"t":"20 K","b":"u","x":0.174,"y":70},{"t":"20 K","b":"u","x":0.184,"y":69},{"t":"20 K","b":"u","x":0.194,"y":69},{"t":"20 K","b":"u","x":0.204,"y":68},{"t":"20 K","b":"u","x":0.214,"y":68},{"t":"20 K","b":"u","x":0.224,"y":67},{"t":"20 K","b":"u","x":0.234,"y":67},{"t":"20 K","b":"u","x":0.243,"y":66},{"t":"20 K","b":"u","x":0.252,"y":2},{"t":"20 K","b":"u","x":0.265,"y":1},{"t":"20 K","b":"u","x":0.285,"y":0},{"t":"20 K","b":"u","x":0.305,"y":1},{"t":"20 K","b":"u","x":0.325,"y":0},{"t":"20 K","b":"u","x":0.345,"y":1},
{"t":"20 K","b":"d","x":-0.335,"y":0},{"t":"20 K","b":"d","x":-0.315,"y":1},{"t":"20 K","b":"d","x":-0.295,"y":0},{"t":"20 K","b":"d","x":-0.275,"y":0},{"t":"20 K","b":"d","x":-0.255,"y":1},{"t":"20 K","b":"d","x":-0.235,"y":0},{"t":"20 K","b":"d","x":-0.215,"y":1},{"t":"20 K","b":"d","x":-0.195,"y":0},{"t":"20 K","b":"d","x":-0.175,"y":1},{"t":"20 K","b":"d","x":-0.155,"y":1},{"t":"20 K","b":"d","x":-0.135,"y":1},{"t":"20 K","b":"d","x":-0.115,"y":2},{"t":"20 K","b":"d","x":-0.095,"y":2},{"t":"20 K","b":"d","x":-0.075,"y":2},{"t":"20 K","b":"d","x":-0.055,"y":3},{"t":"20 K","b":"d","x":-0.035,"y":3},{"t":"20 K","b":"d","x":-0.015,"y":4},{"t":"20 K","b":"d","x":0.005,"y":4},{"t":"20 K","b":"d","x":0.025,"y":3},{"t":"20 K","b":"d","x":0.045,"y":3},{"t":"20 K","b":"d","x":0.065,"y":3},{"t":"20 K","b":"d","x":0.085,"y":2},{"t":"20 K","b":"d","x":0.105,"y":3},{"t":"20 K","b":"d","x":0.125,"y":3},{"t":"20 K","b":"d","x":0.145,"y":2},{"t":"20 K","b":"d","x":0.165,"y":3},{"t":"20 K","b":"d","x":0.185,"y":2},{"t":"20 K","b":"d","x":0.205,"y":3},{"t":"20 K","b":"d","x":0.225,"y":2},{"t":"20 K","b":"d","x":0.245,"y":2},{"t":"20 K","b":"d","x":0.265,"y":3},{"t":"20 K","b":"d","x":0.285,"y":2},{"t":"20 K","b":"d","x":0.305,"y":1},{"t":"20 K","b":"d","x":0.325,"y":2},{"t":"20 K","b":"d","x":0.345,"y":1},
{"t":"30 K","b":"u","x":-0.339,"y":0},{"t":"30 K","b":"u","x":-0.318,"y":1},{"t":"30 K","b":"u","x":-0.297,"y":0},{"t":"30 K","b":"u","x":-0.276,"y":1},{"t":"30 K","b":"u","x":-0.250,"y":49},{"t":"30 K","b":"u","x":-0.233,"y":50},{"t":"30 K","b":"u","x":-0.210,"y":51},{"t":"30 K","b":"u","x":-0.190,"y":51},{"t":"30 K","b":"u","x":-0.170,"y":51},{"t":"30 K","b":"u","x":-0.153,"y":51},{"t":"30 K","b":"u","x":-0.132,"y":51},{"t":"30 K","b":"u","x":-0.120,"y":51},{"t":"30 K","b":"u","x":-0.110,"y":51},{"t":"30 K","b":"u","x":-0.101,"y":51},{"t":"30 K","b":"u","x":-0.092,"y":51},{"t":"30 K","b":"u","x":-0.080,"y":51},{"t":"30 K","b":"u","x":-0.068,"y":51},{"t":"30 K","b":"u","x":-0.057,"y":51},{"t":"30 K","b":"u","x":-0.042,"y":51},{"t":"30 K","b":"u","x":-0.033,"y":11},{"t":"30 K","b":"u","x":-0.022,"y":8},{"t":"30 K","b":"u","x":-0.010,"y":7},{"t":"30 K","b":"u","x":0.000,"y":6},{"t":"30 K","b":"u","x":0.012,"y":7},{"t":"30 K","b":"u","x":0.024,"y":7},{"t":"30 K","b":"u","x":0.034,"y":8},{"t":"30 K","b":"u","x":0.040,"y":10},{"t":"30 K","b":"u","x":0.049,"y":50},{"t":"30 K","b":"u","x":0.061,"y":53},{"t":"30 K","b":"u","x":0.075,"y":55},{"t":"30 K","b":"u","x":0.092,"y":54},{"t":"30 K","b":"u","x":0.110,"y":54},{"t":"30 K","b":"u","x":0.127,"y":53},{"t":"30 K","b":"u","x":0.148,"y":52},{"t":"30 K","b":"u","x":0.167,"y":52},{"t":"30 K","b":"u","x":0.191,"y":51},{"t":"30 K","b":"u","x":0.210,"y":51},{"t":"30 K","b":"u","x":0.228,"y":50},{"t":"30 K","b":"u","x":0.249,"y":50},{"t":"30 K","b":"u","x":0.270,"y":50},{"t":"30 K","b":"u","x":0.296,"y":2},{"t":"30 K","b":"u","x":0.315,"y":1},{"t":"30 K","b":"u","x":0.335,"y":0},{"t":"30 K","b":"u","x":0.352,"y":1},
{"t":"30 K","b":"d","x":-0.330,"y":1},{"t":"30 K","b":"d","x":-0.310,"y":0},{"t":"30 K","b":"d","x":-0.290,"y":1},{"t":"30 K","b":"d","x":-0.270,"y":0},{"t":"30 K","b":"d","x":-0.250,"y":1},{"t":"30 K","b":"d","x":-0.230,"y":1},{"t":"30 K","b":"d","x":-0.210,"y":0},{"t":"30 K","b":"d","x":-0.190,"y":1},{"t":"30 K","b":"d","x":-0.170,"y":1},{"t":"30 K","b":"d","x":-0.150,"y":2},{"t":"30 K","b":"d","x":-0.130,"y":1},{"t":"30 K","b":"d","x":-0.110,"y":2},{"t":"30 K","b":"d","x":-0.090,"y":2},{"t":"30 K","b":"d","x":-0.070,"y":3},{"t":"30 K","b":"d","x":-0.050,"y":3},{"t":"30 K","b":"d","x":-0.030,"y":3},{"t":"30 K","b":"d","x":-0.010,"y":4},{"t":"30 K","b":"d","x":0.010,"y":4},{"t":"30 K","b":"d","x":0.030,"y":3},{"t":"30 K","b":"d","x":0.050,"y":3},{"t":"30 K","b":"d","x":0.070,"y":2},{"t":"30 K","b":"d","x":0.090,"y":3},{"t":"30 K","b":"d","x":0.110,"y":3},{"t":"30 K","b":"d","x":0.130,"y":2},{"t":"30 K","b":"d","x":0.150,"y":3},{"t":"30 K","b":"d","x":0.170,"y":2},{"t":"30 K","b":"d","x":0.190,"y":3},{"t":"30 K","b":"d","x":0.210,"y":2},{"t":"30 K","b":"d","x":0.230,"y":3},{"t":"30 K","b":"d","x":0.250,"y":2},{"t":"30 K","b":"d","x":0.270,"y":2},{"t":"30 K","b":"d","x":0.290,"y":2},{"t":"30 K","b":"d","x":0.310,"y":1},{"t":"30 K","b":"d","x":0.330,"y":1},{"t":"30 K","b":"d","x":0.350,"y":0}
],
"arA": [
{"x":-0.304,"x2":-0.238,"y":171,"d":"r"},{"x":-0.293,"x2":-0.226,"y":160,"d":"l"},{"x":-0.304,"x2":-0.238,"y":148,"d":"r"},
{"x":-0.322,"x2":-0.256,"y":75.6,"d":"r"},{"x":-0.311,"x2":-0.243,"y":64,"d":"l"},{"x":-0.311,"x2":-0.243,"y":53,"d":"l"},
{"x":0.266,"x2":0.331,"y":41,"d":"r"},{"x":0.266,"x2":0.331,"y":30,"d":"r"},{"x":0.266,"x2":0.331,"y":18,"d":"r"}
],
"txA": [{"x":-0.271,"y":132,"s":"AP1"},{"x":-0.283,"y":35,"s":"AP2"},{"x":0.303,"y":54,"s":"P"}],
"arB": [
{"x":-0.287,"x2":-0.222,"y":103,"d":"r"},{"x":-0.276,"x2":-0.21,"y":91.5,"d":"l"},
{"x":0.332,"x2":0.39,"y":25,"d":"r"},{"x":0.332,"x2":0.39,"y":13,"d":"r"}
],
"txB": [{"x":-0.25,"y":115,"s":"AP"},{"x":0.356,"y":38,"s":"P"}]
},
"hconcat": [
{
 "width": 395, "height": 296,
 "title": {"text": "(a)", "orient": "bottom", "anchor": "start", "frame": "group", "dx": -26, "offset": 2, "fontSize": 24, "fontWeight": "normal", "color": "#1a1a1a", "font": "Liberation Sans"},
 "layer": [
  {"mark": {"type": "rule", "color": "#222", "strokeWidth": 1},
   "encoding": {"x": {"datum": 0, "type": "quantitative", "axis": null, "scale": {"domain": [-0.344, 0.344], "nice": false, "zero": false}}}},
  {"data": {"name": "pa"},
   "mark": {"type": "line", "stroke": "#999", "strokeWidth": 1.1, "strokeDash": [1.5, 1.5]},
   "encoding": {
    "x": {"field": "x", "type": "quantitative", "scale": {"domain": [-0.344, 0.344], "nice": false, "zero": false},
      "axis": {"orient": "bottom", "title": "Field [kG]", "values": [-0.3, -0.2, -0.1, 0, 0.1, 0.2, 0.3],
        "labelExpr": "abs(datum.value)<0.01 ? '0.0' : abs(datum.value+0.2)<0.01 ? '-0.2' : abs(datum.value-0.2)<0.01 ? '0.2' : ''",
        "tickSize": {"condition": {"test": "abs(datum.value)<0.01 || abs(abs(datum.value)-0.2)<0.01", "value": 6}, "value": 3},
        "labelFontSize": 20, "labelPadding": 4, "titleFontSize": 22, "titlePadding": 3}},
    "y": {"field": "y", "type": "quantitative", "scale": {"domain": [-10.4, 182.4], "nice": false, "zero": false},
      "axis": {"orient": "left", "title": "MR [%]", "values": [0, 10, 20, 30, 40, 50, 60, 70, 80, 90, 100, 110, 120, 130, 140, 150, 160, 170, 180],
        "labelExpr": "datum.value % 50 == 0 ? datum.label : ''",
        "tickSize": {"condition": {"test": "datum.value % 50 == 0", "value": 6}, "value": 3},
        "labelFontSize": 20, "labelPadding": 4, "titleFontSize": 23, "titlePadding": 14}},
    "detail": [{"field": "t"}, {"field": "b"}]
   }},
  {"data": {"name": "pa"},
   "mark": {"type": "point", "filled": true, "opacity": 1, "size": 45},
   "encoding": {
    "x": {"field": "x", "type": "quantitative", "scale": {"domain": [-0.344, 0.344], "nice": false, "zero": false},
      "axis": {"orient": "top", "title": null, "labels": false, "values": [-0.3, -0.2, -0.1, 0, 0.1, 0.2, 0.3],
        "tickSize": {"condition": {"test": "abs(datum.value)<0.01 || abs(abs(datum.value)-0.2)<0.01", "value": -6}, "value": -3}}},
    "y": {"field": "y", "type": "quantitative", "scale": {"domain": [-10.4, 182.4], "nice": false, "zero": false},
      "axis": {"orient": "right", "title": null, "labels": false, "values": [0, 10, 20, 30, 40, 50, 60, 70, 80, 90, 100, 110, 120, 130, 140, 150, 160, 170, 180],
        "tickSize": {"condition": {"test": "datum.value % 50 == 0", "value": -6}, "value": -3}}},
    "shape": {"field": "t", "type": "nominal",
      "scale": {"domain": ["10 K", "15 K", "20 K", "30 K", "40 K", "zz"], "range": ["circle", "triangle-up", "triangle-down", "diamond", "triangle-left", "M0,0"]},
      "legend": {"orient": "none", "legendX": 330, "legendY": 17, "labelFontSize": 16, "symbolSize": 60, "labelOffset": 11, "rowPadding": 0, "labelBaseline": "alphabetic",
        "labelExpr": "datum.label=='10 K' ? '' : datum.label=='15 K' ? '10 K' : datum.label=='20 K' ? '15 K' : datum.label=='30 K' ? '20 K' : datum.label=='40 K' ? '30 K' : '40 K'"}},
    "color": {"field": "t", "type": "nominal",
      "scale": {"domain": ["10 K", "15 K", "20 K", "30 K", "40 K", "zz"], "range": ["#262626", "#363636", "#464646", "#525252", "#4a4a4a", "#000000"]},
      "legend": {"orient": "none", "legendX": 330, "legendY": 17, "labelFontSize": 16, "symbolSize": 60, "labelOffset": 11, "rowPadding": 0, "labelBaseline": "alphabetic",
        "labelExpr": "datum.label=='10 K' ? '' : datum.label=='15 K' ? '10 K' : datum.label=='20 K' ? '15 K' : datum.label=='30 K' ? '20 K' : datum.label=='40 K' ? '30 K' : '40 K'"}}
   }},
  {"data": {"name": "arA"},
   "mark": {"type": "rule", "strokeWidth": 5, "color": "#262626"},
   "encoding": {"x": {"field": "x", "type": "quantitative", "axis": null, "scale": {"domain": [-0.344, 0.344], "nice": false, "zero": false}}, "x2": {"field": "x2"},
     "y": {"field": "y", "type": "quantitative", "axis": null, "scale": {"domain": [-10.4, 182.4], "nice": false, "zero": false}}}},
  {"data": {"name": "arA"}, "transform": [{"filter": "datum.d == 'r'"}],
   "mark": {"type": "point", "shape": "triangle-right", "filled": true, "opacity": 1, "size": 190, "color": "#262626"},
   "encoding": {"x": {"field": "x2", "type": "quantitative", "axis": null, "scale": {"domain": [-0.344, 0.344], "nice": false, "zero": false}},
     "y": {"field": "y", "type": "quantitative", "axis": null, "scale": {"domain": [-10.4, 182.4], "nice": false, "zero": false}}}},
  {"data": {"name": "arA"}, "transform": [{"filter": "datum.d == 'l'"}],
   "mark": {"type": "point", "shape": "triangle-left", "filled": true, "opacity": 1, "size": 190, "color": "#262626"},
   "encoding": {"x": {"field": "x", "type": "quantitative", "axis": null, "scale": {"domain": [-0.344, 0.344], "nice": false, "zero": false}},
     "y": {"field": "y", "type": "quantitative", "axis": null, "scale": {"domain": [-10.4, 182.4], "nice": false, "zero": false}}}},
  {"data": {"name": "txA"},
   "mark": {"type": "text", "fontSize": 22, "color": "#1a1a1a", "align": "center", "baseline": "middle", "font": "Liberation Sans"},
   "encoding": {"x": {"field": "x", "type": "quantitative", "axis": null, "scale": {"domain": [-0.344, 0.344], "nice": false, "zero": false}},
     "y": {"field": "y", "type": "quantitative", "axis": null, "scale": {"domain": [-10.4, 182.4], "nice": false, "zero": false}},
     "text": {"field": "s"}}}
 ],
 "resolve": {"axis": {"x": "independent", "y": "independent"}}
},
{
 "width": 404, "height": 291,
 "title": {"text": "(b)", "orient": "bottom", "anchor": "start", "frame": "group", "dx": -51, "offset": 2, "fontSize": 24, "fontWeight": "normal", "color": "#1a1a1a", "font": "Liberation Sans"},
 "layer": [
  {"mark": {"type": "rule", "color": "#222", "strokeWidth": 1},
   "encoding": {"x": {"datum": 0, "type": "quantitative", "axis": null, "scale": {"domain": [-0.348, 0.355], "nice": false, "zero": false}}}},
  {"data": {"name": "pb"},
   "mark": {"type": "line", "stroke": "#999", "strokeWidth": 1.1, "strokeDash": [1.5, 1.5]},
   "encoding": {
    "x": {"field": "x", "type": "quantitative", "scale": {"domain": [-0.348, 0.355], "nice": false, "zero": false},
      "axis": {"orient": "bottom", "title": "Field [kG]", "values": [-0.3, -0.2, -0.1, 0, 0.1, 0.2, 0.3],
        "labelExpr": "abs(datum.value)<0.01 ? '0.0' : abs(datum.value+0.2)<0.01 ? '-0.2' : abs(datum.value-0.2)<0.01 ? '0.2' : ''",
        "tickSize": {"condition": {"test": "abs(datum.value)<0.01 || abs(abs(datum.value)-0.2)<0.01", "value": 6}, "value": 3},
        "labelFontSize": 23, "labelPadding": 4, "titleFontSize": 23, "titlePadding": 4}},
    "y": {"field": "y", "type": "quantitative", "scale": {"domain": [-9.8, 180.4], "nice": false, "zero": false},
      "axis": {"orient": "left", "title": "MR [%]", "values": [0, 10, 20, 30, 40, 50, 60, 70, 80, 90, 100, 110, 120, 130, 140, 150, 160, 170, 180],
        "labelExpr": "datum.value % 50 == 0 ? datum.label : ''",
        "tickSize": {"condition": {"test": "datum.value % 50 == 0", "value": 6}, "value": 3},
        "labelFontSize": 23, "labelPadding": 5, "titleFontSize": 25, "titlePadding": 8}},
    "detail": [{"field": "t"}, {"field": "b"}]
   }},
  {"data": {"name": "pb"},
   "mark": {"type": "point", "filled": true, "opacity": 1, "size": 55},
   "encoding": {
    "x": {"field": "x", "type": "quantitative", "scale": {"domain": [-0.348, 0.355], "nice": false, "zero": false},
      "axis": {"orient": "top", "title": null, "labels": false, "values": [-0.3, -0.2, -0.1, 0, 0.1, 0.2, 0.3],
        "tickSize": {"condition": {"test": "abs(datum.value)<0.01 || abs(abs(datum.value)-0.2)<0.01", "value": -6}, "value": -3}}},
    "y": {"field": "y", "type": "quantitative", "scale": {"domain": [-9.8, 180.4], "nice": false, "zero": false},
      "axis": {"orient": "right", "title": null, "labels": false, "values": [0, 10, 20, 30, 40, 50, 60, 70, 80, 90, 100, 110, 120, 130, 140, 150, 160, 170, 180],
        "tickSize": {"condition": {"test": "datum.value % 50 == 0", "value": -6}, "value": -3}}},
    "shape": {"field": "t", "type": "nominal",
      "scale": {"domain": ["10 K", "15 K", "20 K", "30 K", "zz"], "range": ["circle", "triangle-up", "triangle-down", "diamond", "M0,0"]},
      "legend": {"orient": "none", "legendX": 307, "legendY": 16, "labelFontSize": 17, "symbolSize": 60, "labelOffset": 13, "rowPadding": 1, "labelBaseline": "alphabetic",
        "labelExpr": "datum.label=='10 K' ? '' : datum.label=='15 K' ? '10 K' : datum.label=='20 K' ? '15 K' : datum.label=='30 K' ? '20 K' : '30 K'"}},
    "color": {"field": "t", "type": "nominal",
      "scale": {"domain": ["10 K", "15 K", "20 K", "30 K", "zz"], "range": ["#2e2e2e", "#3c3c3c", "#4a4a4a", "#5c5c5c", "#000000"]},
      "legend": {"orient": "none", "legendX": 307, "legendY": 16, "labelFontSize": 17, "symbolSize": 60, "labelOffset": 13, "rowPadding": 1, "labelBaseline": "alphabetic",
        "labelExpr": "datum.label=='10 K' ? '' : datum.label=='15 K' ? '10 K' : datum.label=='20 K' ? '15 K' : datum.label=='30 K' ? '20 K' : '30 K'"}}
   }},
  {"data": {"name": "arB"},
   "mark": {"type": "rule", "strokeWidth": 5, "color": "#262626"},
   "encoding": {"x": {"field": "x", "type": "quantitative", "axis": null, "scale": {"domain": [-0.348, 0.355], "nice": false, "zero": false}}, "x2": {"field": "x2"},
     "y": {"field": "y", "type": "quantitative", "axis": null, "scale": {"domain": [-9.8, 180.4], "nice": false, "zero": false}}}},
  {"data": {"name": "arB"}, "transform": [{"filter": "datum.d == 'r'"}],
   "mark": {"type": "point", "shape": "triangle-right", "filled": true, "opacity": 1, "size": 190, "color": "#262626"},
   "encoding": {"x": {"field": "x2", "type": "quantitative", "axis": null, "scale": {"domain": [-0.348, 0.355], "nice": false, "zero": false}},
     "y": {"field": "y", "type": "quantitative", "axis": null, "scale": {"domain": [-9.8, 180.4], "nice": false, "zero": false}}}},
  {"data": {"name": "arB"}, "transform": [{"filter": "datum.d == 'l'"}],
   "mark": {"type": "point", "shape": "triangle-left", "filled": true, "opacity": 1, "size": 190, "color": "#262626"},
   "encoding": {"x": {"field": "x", "type": "quantitative", "axis": null, "scale": {"domain": [-0.348, 0.355], "nice": false, "zero": false}},
     "y": {"field": "y", "type": "quantitative", "axis": null, "scale": {"domain": [-9.8, 180.4], "nice": false, "zero": false}}}},
  {"data": {"name": "txB"},
   "mark": {"type": "text", "fontSize": 22, "color": "#1a1a1a", "align": "center", "baseline": "middle", "font": "Liberation Sans"},
   "encoding": {"x": {"field": "x", "type": "quantitative", "axis": null, "scale": {"domain": [-0.348, 0.355], "nice": false, "zero": false}},
     "y": {"field": "y", "type": "quantitative", "axis": null, "scale": {"domain": [-9.8, 180.4], "nice": false, "zero": false}},
     "text": {"field": "s"}}}
 ],
 "resolve": {"axis": {"x": "independent", "y": "independent"}}
}
]
}
